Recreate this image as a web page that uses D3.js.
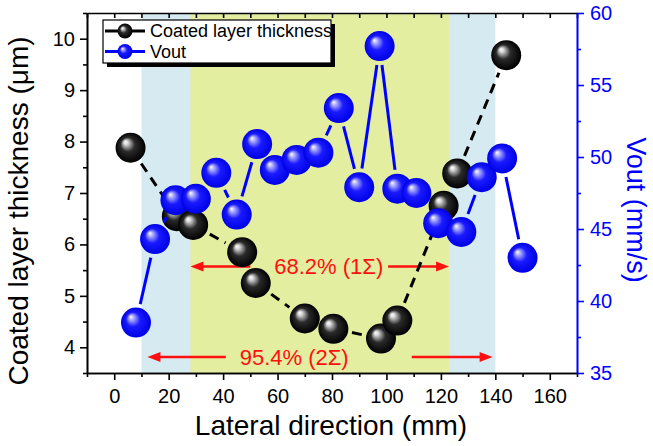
<!DOCTYPE html>
<html>
<head>
<meta charset="utf-8">
<script src="https://cdn.jsdelivr.net/npm/d3@7"></script>
<style>
    body { margin: 0; background: #fff; }
    svg { display: block; font-family: "Liberation Sans", Arial, sans-serif; }
</style>
</head>
<body>
<svg id="chart" width="653" height="446"></svg>
<script>
// coated layer thickness (left axis, um)
var thickX = [6, 23, 29, 47, 52, 70, 80.5, 98, 104, 121, 126, 144];
var thickY = [7.88, 6.55, 6.38, 5.85, 5.25, 4.56, 4.36, 4.17, 4.52, 6.75, 7.38, 9.68];

// Vout (right axis, mm/s)
var voutX = [8, 15, 22.5, 30, 37.5, 45, 52.5, 59, 67, 75, 82.5, 90, 97.5, 104, 111, 119, 127.5, 135, 142.5, 150];
var voutY = [38.5, 44.3, 47.0, 47.1, 48.9, 46.0, 50.9, 49.1, 49.8, 50.3, 53.4, 47.9, 57.7, 47.8, 47.5, 45.4, 44.8, 48.6, 49.9, 43.0];

// shaded sigma bands
var bandFrom = [10, 28];
var bandTo = [140, 123];

// sigma annotations
var sigmaLabels = ['68.2% (1\u03A3)', '95.4% (2\u03A3)'];
var sigmaLevel = [5.57, 3.81];
var sigmaTextX = [78.8, 66.1];
var arrowLeftTip = [28, 12.2];
var arrowLeftEnd = [50, 41];
var arrowRightStart = [100.6, 109.3];
var arrowRightTip = [123, 139];

// ticks
var xTicks = [0, 20, 40, 60, 80, 100, 120, 140, 160];
var xMinor = [-10, 10, 30, 50, 70, 90, 110, 130, 150, 170];
var yLeftTicks = [4, 5, 6, 7, 8, 9, 10];
var yLeftMinor = [3.5, 4.5, 5.5, 6.5, 7.5, 8.5, 9.5, 10.5];
var yRightTicks = [35, 40, 45, 50, 55, 60];
var yRightMinor = [37.5, 42.5, 47.5, 52.5, 57.5];

var legendLabels = ['Coated layer thickness', 'Vout'];

var margin = {left: 87, right: 76, top: 13, bottom: 73};
var W = 653, H = 446;
var BLUE = '#0000ff', RED = '#ff1010';
var R = 15, GAP = 4;
var fmt = d3.format('d');

var svg = d3.select('#chart');

var x = d3.scaleLinear().domain([-10, 170]).range([margin.left, W - margin.right]);
var y = d3.scaleLinear().domain([3.5, 10.5]).range([H - margin.bottom, margin.top]);
var y2 = d3.scaleLinear().domain([35, 60]).range([H - margin.bottom, margin.top]);

// gradients for the sphere markers
var defs = svg.append('defs');
function sphere(id, c0, c1, c2, c3) {
    var g = defs.append('radialGradient').attr('id', id)
        .attr('cx', '50%').attr('cy', '50%').attr('r', '50%')
        .attr('fx', '32%').attr('fy', '30%');
    g.append('stop').attr('offset', '0%').attr('stop-color', c0);
    g.append('stop').attr('offset', '14%').attr('stop-color', c1);
    g.append('stop').attr('offset', '48%').attr('stop-color', c2);
    g.append('stop').attr('offset', '100%').attr('stop-color', c3);
}
sphere('ballBlack', '#ffffff', '#d8d8d8', '#2a2a2a', '#000000');
sphere('ballBlue', '#ffffff', '#b8b8ff', '#1a1aff', '#0000e6');

// bands
var bandColors = ['#d6ebf1', '#e3eea0'];
svg.selectAll('.band')
    .data(bandFrom)
    .enter()
    .append('rect')
    .attr('class', 'band')
    .attr('x', function (d) { return x(d); })
    .attr('y', margin.top)
    .attr('width', function (d, i) { return x(bandTo[i]) - x(d); })
    .attr('height', H - margin.bottom - margin.top)
    .style('fill', function (d, i) { return bandColors[i]; });

// axes
function styleAxis(g, color) {
    g.select('.domain').attr('stroke', color).attr('stroke-width', 1.6);
    g.selectAll('.tick line').attr('stroke', color).attr('stroke-width', 1.6);
    g.selectAll('.tick text').attr('fill', color).style('font-size', '20px')
        .style('font-family', '"Liberation Sans", Arial, sans-serif');
}
var bottom = H - margin.bottom, right = W - margin.right;

svg.append('g').attr('transform', 'translate(0,' + bottom + ')')
    .call(d3.axisBottom(x).tickValues(xMinor).tickSize(4).tickSizeOuter(0).tickFormat(''))
    .call(styleAxis, '#000');
svg.append('g').attr('transform', 'translate(0,' + bottom + ')')
    .call(d3.axisBottom(x).tickValues(xTicks).tickSize(7).tickSizeOuter(0).tickPadding(9).tickFormat(fmt))
    .call(styleAxis, '#000');
svg.append('g').attr('transform', 'translate(0,' + margin.top + ')')
    .call(d3.axisTop(x).tickValues(xTicks.concat(xMinor)).tickSize(-5).tickSizeOuter(0).tickFormat(''))
    .call(styleAxis, '#000');

svg.append('g').attr('transform', 'translate(' + margin.left + ',0)')
    .call(d3.axisLeft(y).tickValues(yLeftMinor).tickSize(4).tickSizeOuter(0).tickFormat(''))
    .call(styleAxis, '#000');
svg.append('g').attr('transform', 'translate(' + margin.left + ',0)')
    .call(d3.axisLeft(y).tickValues(yLeftTicks).tickSize(7).tickSizeOuter(0).tickPadding(5).tickFormat(fmt))
    .call(styleAxis, '#000');

svg.append('g').attr('transform', 'translate(' + right + ',0)')
    .call(d3.axisRight(y2).tickValues(yRightMinor).tickSize(4).tickSizeOuter(0).tickFormat(''))
    .call(styleAxis, BLUE);
svg.append('g').attr('transform', 'translate(' + right + ',0)')
    .call(d3.axisRight(y2).tickValues(yRightTicks).tickSize(7).tickSizeOuter(0).tickPadding(6).tickFormat(fmt))
    .call(styleAxis, BLUE);

// axis titles
svg.append('text')
    .attr('x', (margin.left + right) / 2 - 1).attr('y', 435)
    .attr('text-anchor', 'middle').style('font-size', '28px')
    .text('Lateral direction (mm)');
svg.append('text')
    .attr('transform', 'translate(28,211) rotate(-90)')
    .attr('text-anchor', 'middle').style('font-size', '28px')
    .text('Coated layer thickness (\u03BCm)');
svg.append('text')
    .attr('transform', 'translate(627,210) rotate(90)')
    .attr('text-anchor', 'middle').style('font-size', '27px')
    .style('fill', BLUE)
    .text('Vout (mm/s)');

// sigma arrows
function arrowHead(tx, ty, dir) {
    var L = 13, w = 5;
    return 'M' + tx + ',' + ty + 'L' + (tx + dir * L) + ',' + (ty - w) + 'L' + (tx + dir * L) + ',' + (ty + w) + 'Z';
}
sigmaLabels.forEach(function (label, i) {
    var yy = y(sigmaLevel[i]);
    var g = svg.append('g').attr('class', 'sigma');
    g.append('line')
        .attr('x1', x(arrowLeftTip[i]) + 8).attr('x2', x(arrowLeftEnd[i]))
        .attr('y1', yy).attr('y2', yy)
        .style('stroke', RED).style('stroke-width', 2.5);
    g.append('path').attr('d', arrowHead(x(arrowLeftTip[i]), yy, 1)).style('fill', RED);
    g.append('line')
        .attr('x1', x(arrowRightStart[i])).attr('x2', x(arrowRightTip[i]) - 8)
        .attr('y1', yy).attr('y2', yy)
        .style('stroke', RED).style('stroke-width', 2.5);
    g.append('path').attr('d', arrowHead(x(arrowRightTip[i]), yy, -1)).style('fill', RED);
    g.append('text')
        .attr('x', x(sigmaTextX[i])).attr('y', yy).attr('dy', '0.36em')
        .attr('text-anchor', 'middle')
        .style('font-size', '22px').style('fill', RED)
        .text(label);
});

// line segments that stop short of each marker
function gapSegments(px, py) {
    var segs = [];
    for (var i = 0; i < px.length - 1; i++) {
        var dx = px[i + 1] - px[i], dy = py[i + 1] - py[i];
        var len = Math.sqrt(dx * dx + dy * dy);
        var cut = R + GAP;
        if (len <= 2 * cut + 2) continue;
        var ux = dx / len, uy = dy / len;
        segs.push([px[i] + ux * cut, py[i] + uy * cut, px[i + 1] - ux * cut, py[i + 1] - uy * cut]);
    }
    return segs;
}

function drawSeries(xs, ys, scaleY, color, dash, fillId) {
    var px = xs.map(function (d) { return x(d); });
    var py = ys.map(function (d) { return scaleY(d); });
    svg.append('g').selectAll('line')
        .data(gapSegments(px, py))
        .enter()
        .append('line')
        .attr('x1', function (d) { return d[0]; })
        .attr('y1', function (d) { return d[1]; })
        .attr('x2', function (d) { return d[2]; })
        .attr('y2', function (d) { return d[3]; })
        .style('stroke', color)
        .style('stroke-width', 3)
        .style('stroke-dasharray', dash);
    svg.append('g').selectAll('circle')
        .data(xs)
        .enter()
        .append('circle')
        .attr('cx', function (d) { return x(d); })
        .attr('cy', function (d, i) { return scaleY(ys[i]); })
        .attr('r', R)
        .style('fill', 'url(#' + fillId + ')');
}

drawSeries(thickX, thickY, y, '#000', '10,7', 'ballBlack');
drawSeries(voutX, voutY, y2, BLUE, null, 'ballBlue');

// legend
var lg = svg.append('g').attr('transform', 'translate(103,20)');
lg.append('rect').attr('x', 4).attr('y', 4).attr('width', 228).attr('height', 43).style('fill', '#000');
lg.append('rect').attr('x', 0).attr('y', 0).attr('width', 228).attr('height', 43)
    .style('fill', '#fff').style('stroke', '#000').style('stroke-width', 1.2);
var legendColors = ['#000', BLUE];
var legendFills = ['ballBlack', 'ballBlue'];
legendLabels.forEach(function (label, i) {
    var ly = 11 + i * 20.5;
    lg.append('line').attr('x1', 2).attr('x2', 42).attr('y1', ly).attr('y2', ly)
        .style('stroke', legendColors[i]).style('stroke-width', 3);
    lg.append('circle').attr('cx', 22).attr('cy', ly).attr('r', 7.5)
        .style('fill', 'url(#' + legendFills[i] + ')');
    lg.append('text').attr('x', 47).attr('y', ly).attr('dy', '0.36em')
        .style('font-size', '18px')
        .text(label);
});
</script>
</body>
</html>
